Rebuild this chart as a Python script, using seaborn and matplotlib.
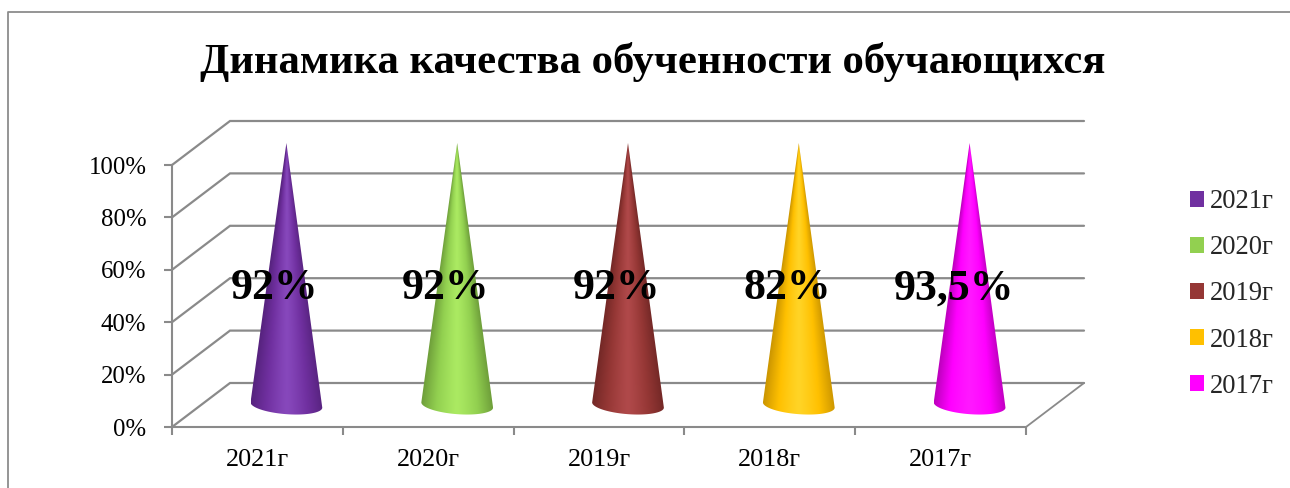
import numpy as np
import pandas as pd
import matplotlib
matplotlib.use("Agg")
import matplotlib.pyplot as plt
import seaborn as sns
from matplotlib.colors import LinearSegmentedColormap
from matplotlib.lines import Line2D
from matplotlib.patches import Polygon, Rectangle

# chart data (100% stacked cones, so every cone is full height, labels carry the value)
years = ["2021г", "2020г", "2019г", "2018г", "2017г"]
shares = [100, 100, 100, 100, 100]
quality = [92, 92, 92, 82, 93.5]
y_ticks = [0, 20, 40, 60, 80, 100]
title = "Динамика качества обученности обучающихся"

colors = ["#7030A0", "#92D050", "#953735", "#FFC000", "#FF00FF"]
edge_colors = ["#57237F", "#6E9E3A", "#732826", "#CC9600", "#BE00BE"]
light_colors = ["#8748BC", "#ABEA62", "#B0494A", "#FFD426", "#FF18FF"]

W, H = 1290, 488
GREY = "#8A8A8A"
DEPTH_X = 58 / 170.8   # oblique shift of the back wall, in categories
DEPTH_Y = 44 / 262 * 100   # same, in percent

sns.set_theme(style="white")
plt.rcParams["font.family"] = ["Liberation Serif", "DejaVu Serif"]

df = pd.DataFrame({"year": years, "share": shares})

fig = plt.figure(figsize=(W / 100, H / 100), dpi=100, facecolor="white")
ax = fig.add_axes([172 / W, (H - 427) / H, (1026 - 172) / W, 262 / H])
ax.patch.set_alpha(0)

sns.barplot(data=df, x="year", y="share", hue="year", palette=dict(zip(years, colors)),
            hue_order=years, order=years, width=0.42, legend=False, ax=ax)
ax.set_xlim(-0.5, 4.5)
ax.set_ylim(0, 100)
ax.set_xlabel("")
ax.set_ylabel("")

# walls: lines go from the front plane to the back plane
for v in y_ticks:
    ax.plot([-0.5, -0.5 + DEPTH_X, 4.5 + DEPTH_X], [v, v + DEPTH_Y, v + DEPTH_Y],
            color=GREY, lw=1.6, clip_on=False, zorder=1, solid_joinstyle="miter")
ax.plot([4.5, 4.5 + DEPTH_X], [0, DEPTH_Y], color=GREY, lw=1.3, clip_on=False, zorder=1)

# axes
for side in ["top", "right"]:
    ax.spines[side].set_visible(False)
for side in ["left", "bottom"]:
    ax.spines[side].set_color(GREY)
    ax.spines[side].set_linewidth(1.5)
ax.set_yticks(y_ticks)
ax.set_yticklabels([f"{v}%" for v in y_ticks], fontsize=17.8, color="black")
ax.set_xticks(np.arange(-0.5, 5, 1))
ax.set_xticklabels([])
ax.set_xticks(range(5), minor=True)
ax.set_xticklabels(years, minor=True, fontsize=18.8, color="black")
ax.tick_params(axis="both", which="major", length=6, width=1.5, color=GREY, left=True, bottom=True)
ax.tick_params(axis="y", which="major", pad=12.5)
ax.tick_params(axis="x", which="minor", length=0, pad=16, bottom=False)

# turn the bars into shaded cones
ny = 300
nx = 300
xs = np.linspace(-1, 1, nx)
ts = np.linspace(0, 1.1, ny)
xx, tt = np.meshgrid(xs, ts)
uu = np.clip(np.abs(xx) / np.maximum(tt, 0.001), 0, 1)

ry = 3.5
tilt = 1.0
renderer = fig.canvas.get_renderer()
for i, bar in enumerate(ax.patches):
    bar.set_visible(False)
    half = bar.get_width() / 2
    cx = bar.get_x() + half + DEPTH_X / 2
    base = bar.get_y() + DEPTH_Y / 2
    apex = bar.get_height() + DEPTH_Y / 2
    th = np.linspace(np.pi, 2 * np.pi, 60)
    arc_x = cx + half * np.cos(th)
    arc_y = base - tilt * np.cos(th) + ry * np.sin(th)
    verts = np.vstack([[cx, apex], np.column_stack([arc_x, arc_y])])

    cmap = LinearSegmentedColormap.from_list(
        f"cone{i}", [light_colors[i], colors[i], edge_colors[i]])
    # t=0 at apex, t=1 at base rim
    extent = [cx - half, cx + half, apex, apex - 1.1 * (apex - base)]
    im = ax.imshow(cmap(uu ** 1.2), extent=extent, aspect="auto", origin="lower", zorder=3,
                   interpolation="bilinear")
    # apex sits above the axes box, so the image box must not clip it
    im.set_clip_box(fig.bbox)
    im.set_clip_path(Polygon(verts, transform=ax.transData))

    # value label, slightly left of the cone like in the original
    txt = f"{quality[i]:g}".replace(".", ",") + "%"
    t = ax.text(cx, 53.0, txt, fontsize=31.5, fontweight="bold", color="black",
                ha="center", va="center", zorder=5, clip_on=False)
    w = t.get_window_extent(renderer).width
    t.set_x(cx - 0.13 * w / 170.8)

ax.set_xlim(-0.5, 4.5)
ax.set_ylim(0, 100)

# legend
handles = [Rectangle((0, 0), 1, 1, facecolor=c, edgecolor="none") for c in colors]
leg = fig.legend(handles, years, loc="center left", bbox_to_anchor=(1190 / W, (H - 294) / H),
                 frameon=False, fontsize=19.2, handlelength=0.53, handleheight=0.53,
                 handletextpad=0.22, labelspacing=0.79, borderpad=0, borderaxespad=0)

fig.text(653 / W, (H - 61.5) / H, title, fontsize=30.7, fontweight="bold", color="black",
         ha="center", va="center")

# outer chart frame, cut by the image on the right and bottom
fig.add_artist(Line2D([8 / W, 8 / W, 1], [0, (H - 12) / H, (H - 12) / H], color="#8C8C8C", lw=1.3))

fig.savefig("out.png", dpi=100)
